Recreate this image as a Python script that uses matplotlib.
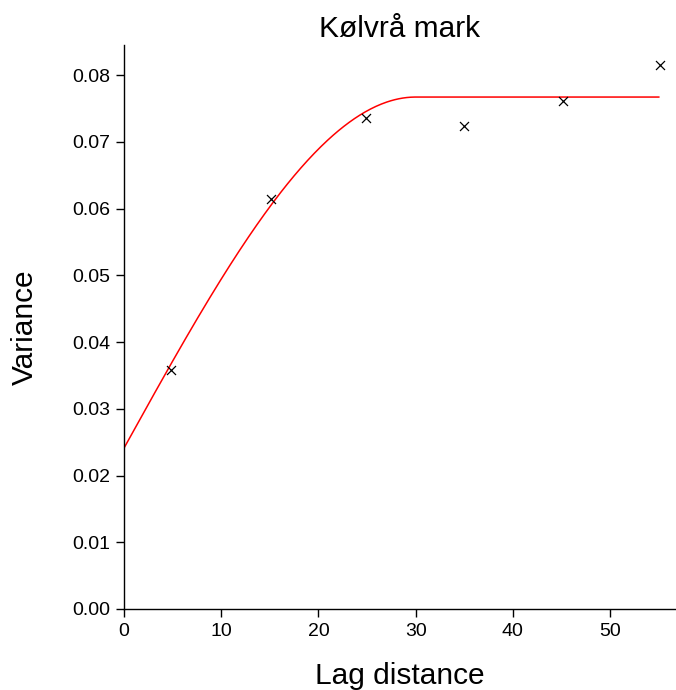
import numpy as np
import matplotlib
matplotlib.use("Agg")
import matplotlib.pyplot as plt

plt.rcParams['font.family'] = ['Liberation Sans', 'DejaVu Sans']

# Empirical semivariogram (mean lag distance per bin, semivariance)
lags = [4.8, 15.1, 24.9, 35.0, 45.2, 55.1]
variance = [0.0358, 0.0614, 0.0735, 0.0723, 0.0761, 0.0815]

# Fitted spherical model parameters
nugget = 0.0241
sill = 0.0767
vrange = 30.0
x_max_model = 55.0

title = "Kølvrå mark"
xlabel = "Lag distance"
ylabel = "Variance"
xticks = [0, 10, 20, 30, 40, 50]
yticks = [0.00, 0.01, 0.02, 0.03, 0.04, 0.05, 0.06, 0.07, 0.08]

h = np.linspace(0, x_max_model, 400)
r = np.clip(h / vrange, 0, 1)
model = nugget + (sill - nugget) * (1.5 * r - 0.5 * r ** 3)

fig = plt.figure(figsize=(6.76, 6.90), dpi=100)
ax = fig.add_axes([0.1834, 0.1174, 0.8156, 0.8174])

ax.plot(h, model, color='red', lw=1.1)
ax.scatter(lags, variance, marker='x', color='black', s=42, linewidths=0.9, zorder=3)

ax.set_xlim(0, 56.7)
ax.set_ylim(0, 0.0845)
ax.set_xticks(xticks)
ax.set_yticks(yticks)
ax.set_yticklabels([f"{v:.2f}" for v in yticks])
ax.tick_params(direction='out', length=6, width=1, labelsize=14, pad=4)
for s in ['top', 'right']:
    ax.spines[s].set_visible(False)
ax.spines['left'].set_linewidth(1)
ax.spines['bottom'].set_linewidth(1)

ax.set_title(title, fontsize=21.5, pad=6)
ax.set_xlabel(xlabel, fontsize=21.5, labelpad=16)
ax.set_ylabel(ylabel, fontsize=21.5)
ax.yaxis.set_label_coords(-0.155, 0.5)

fig.savefig("out.png", dpi=100)
